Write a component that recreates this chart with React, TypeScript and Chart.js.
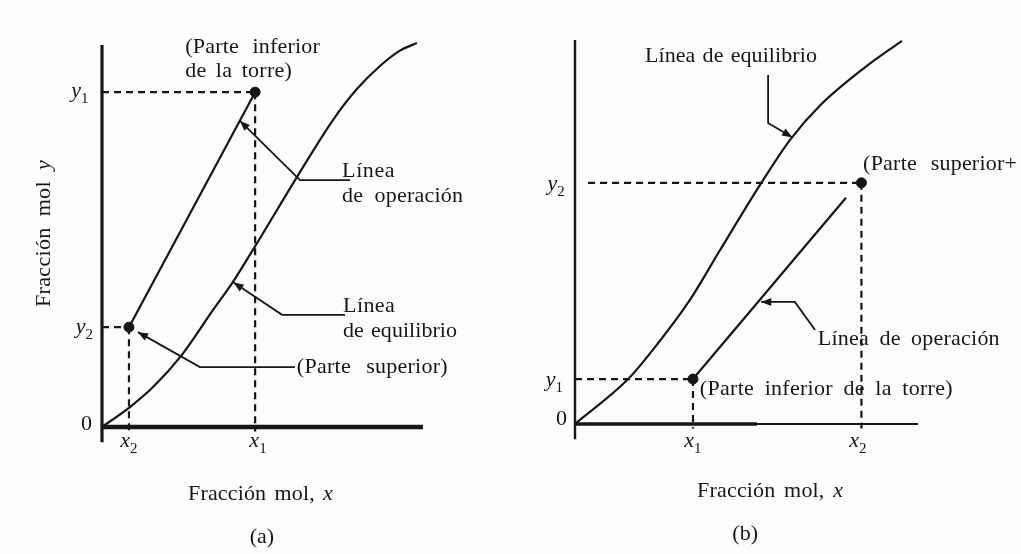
import React, { useEffect, useRef } from "react";
import { Chart, registerables } from "chart.js";

Chart.register(...registerables);

// ---------- Panel (a): absorción ----------
// Curva de equilibrio (fracción mol x, fracción mol y)
const eqA_x = [0, 0.087, 0.159, 0.249, 0.346, 0.408, 0.483, 0.611, 0.72, 0.794, 0.866, 0.928, 0.981];
const eqA_y = [0, 0.052, 0.104, 0.188, 0.305, 0.378, 0.479, 0.656, 0.8, 0.88, 0.94, 0.98, 1.0];
// Línea de operación
const opA_x = [0.084, 0.477];
const opA_y = [0.26, 0.872];
// Extremos de la torre: [superior (x2, y2), inferior (x1, y1)]
const endsA_x = [0.084, 0.477];
const endsA_y = [0.26, 0.872];
const endsA_ticks = ["2", "1"];

// ---------- Panel (b): desorción ----------
const eqB_x = [0, 0.155, 0.227, 0.335, 0.423, 0.539, 0.627, 0.715, 0.84, 0.953];
const eqB_y = [0, 0.117, 0.193, 0.323, 0.453, 0.622, 0.74, 0.83, 0.925, 0.998];
const opB_x = [0.344, 0.79];
const opB_y = [0.117, 0.589];
// Extremos: [inferior (x1, y1), superior (x2, y2)]
const endsB_x = [0.344, 0.835];
const endsB_y = [0.117, 0.628];
const endsB_ticks = ["1", "2"];

const INK = "#161616";
const FAMILY = '"Liberation Serif", "DejaVu Serif", serif';

type Part = { t: string; it?: boolean; sub?: boolean };
type Label = {
  parts: Part[];
  x: number;
  y: number;
  align?: "left" | "center" | "right";
  width?: number;
  rot?: boolean;
  size?: number;
};
type Leader = number[][]; // polyline in data coords, last point is the arrow tip

type PanelSpec = {
  eqX: number[];
  eqY: number[];
  opX: number[];
  opY: number[];
  endX: number[];
  endY: number[];
  ticks: string[];
  padding: { left: number; right: number; top: number; bottom: number };
  xAxisWidth: number;
  xAxisThickTo: number;
  yAxisWidth: number;
  yAxisTop: number;
  guideStart: number[];
  leaders: Leader[];
  labels: Label[];
};

const txt = (s: string): Part[] => [{ t: s }];
const sym = (v: string, n: string): Part[] => [{ t: v, it: true }, { t: n, sub: true }];

function drawRich(ctx: CanvasRenderingContext2D, lab: Label, px: number, py: number) {
  let size = lab.size ?? 22;
  const fontOf = (p: Part, s: number) =>
    `${p.it ? "italic " : ""}${p.sub ? Math.round(s * 0.7) : s}px ${FAMILY}`;
  const measure = (s: number) => {
    ctx.letterSpacing = "0px";
    ctx.wordSpacing = "0px";
    let w = 0;
    for (const p of lab.parts) {
      ctx.font = fontOf(p, s);
      w += ctx.measureText(p.t).width;
    }
    return w;
  };
  let natural = measure(size);
  const chars = lab.parts.reduce((n, p) => n + p.t.length, 0);
  const spaces = lab.parts.reduce((n, p) => n + (p.t.match(/ /g) || []).length, 0);
  let ls = 0;
  let ws = 0;
  if (lab.width) {
    if (natural > lab.width) {
      size = size * (lab.width / natural);
      natural = measure(size);
    } else {
      const extra = lab.width - natural;
      if (spaces > 0) {
        // most of the slack goes into the gaps between words
        ws = (extra * 0.7) / spaces;
        ls = (extra * 0.3) / chars;
      } else {
        ls = extra / chars;
      }
    }
  }
  const total = natural + ls * chars + ws * spaces;
  ctx.save();
  ctx.fillStyle = INK;
  ctx.textBaseline = "alphabetic";
  ctx.textAlign = "left";
  let ox = px;
  let oy = py;
  if (lab.rot) {
    ctx.translate(px, py);
    ctx.rotate(-Math.PI / 2);
    ox = -total / 2;
    oy = 0;
  } else if (lab.align === "center") ox = px - total / 2;
  else if (lab.align === "right") ox = px - total;
  for (const p of lab.parts) {
    ctx.font = fontOf(p, size);
    ctx.letterSpacing = `${ls}px`;
    ctx.wordSpacing = `${ws}px`;
    const w = ctx.measureText(p.t).width;
    ctx.fillText(p.t, ox, oy + (p.sub ? size * 0.28 : 0));
    ox += w;
  }
  ctx.letterSpacing = "0px";
  ctx.wordSpacing = "0px";
  ctx.restore();
}

const diagramPlugin = (spec: PanelSpec) => ({
  id: "diagram",
  beforeDatasetsDraw(chart: any) {
    const { ctx, scales } = chart;
    const X = (v: number) => scales.x.getPixelForValue(v);
    const Y = (v: number) => scales.y.getPixelForValue(v);
    ctx.save();
    ctx.strokeStyle = INK;
    ctx.lineCap = "butt";
    // Ejes
    ctx.lineWidth = spec.yAxisWidth;
    ctx.beginPath();
    ctx.moveTo(X(0), Y(-0.04));
    ctx.lineTo(X(0), Y(spec.yAxisTop));
    ctx.stroke();
    ctx.lineWidth = 2.2;
    ctx.beginPath();
    ctx.moveTo(X(0), Y(0));
    ctx.lineTo(X(1), Y(0));
    ctx.stroke();
    ctx.lineWidth = spec.xAxisWidth;
    ctx.beginPath();
    ctx.moveTo(X(0), Y(0));
    ctx.lineTo(X(spec.xAxisThickTo), Y(0));
    ctx.stroke();
    // Líneas guía punteadas hacia los ejes
    ctx.lineWidth = 2.2;
    ctx.setLineDash([7, 5]);
    spec.endX.forEach((ex, i) => {
      const ey = spec.endY[i];
      ctx.beginPath();
      ctx.moveTo(X(spec.guideStart[i]), Y(ey));
      ctx.lineTo(X(ex), Y(ey));
      ctx.stroke();
      ctx.beginPath();
      ctx.moveTo(X(ex), Y(ey));
      ctx.lineTo(X(ex), Y(-0.012));
      ctx.stroke();
    });
    ctx.setLineDash([]);
    ctx.restore();
  },
  afterDatasetsDraw(chart: any) {
    const { ctx, scales } = chart;
    const X = (v: number) => scales.x.getPixelForValue(v);
    const Y = (v: number) => scales.y.getPixelForValue(v);
    ctx.save();
    ctx.strokeStyle = INK;
    ctx.fillStyle = INK;
    ctx.lineWidth = 1.8;
    ctx.lineJoin = "miter";
    // Flechas indicadoras
    for (const ld of spec.leaders) {
      const pts = ld.map(([a, b]) => [X(a), Y(b)]);
      ctx.beginPath();
      pts.forEach(([a, b], i) => (i ? ctx.lineTo(a, b) : ctx.moveTo(a, b)));
      ctx.stroke();
      const [tx, ty] = pts[pts.length - 1];
      const [sx, sy] = pts[pts.length - 2];
      const ang = Math.atan2(ty - sy, tx - sx);
      const L = 10;
      const H = 4;
      ctx.beginPath();
      ctx.moveTo(tx, ty);
      ctx.lineTo(tx - L * Math.cos(ang) + H * Math.sin(ang), ty - L * Math.sin(ang) - H * Math.cos(ang));
      ctx.lineTo(tx - L * Math.cos(ang) - H * Math.sin(ang), ty - L * Math.sin(ang) + H * Math.cos(ang));
      ctx.closePath();
      ctx.fill();
    }
    ctx.restore();
    for (const lab of spec.labels) drawRich(ctx, lab, X(lab.x), Y(lab.y));
  },
});

function buildConfig(spec: PanelSpec): any {
  const pts = (xs: number[], ys: number[]) => xs.map((x, i) => ({ x, y: ys[i] }));
  return {
    type: "scatter",
    data: {
      datasets: [
        {
          label: "Línea de equilibrio",
          data: pts(spec.eqX, spec.eqY),
          showLine: true,
          borderColor: INK,
          borderWidth: 2.2,
          pointRadius: 0,
          cubicInterpolationMode: "monotone",
          clip: false,
        },
        {
          label: "Línea de operación",
          data: pts(spec.opX, spec.opY),
          showLine: true,
          borderColor: INK,
          borderWidth: 2.2,
          pointRadius: 0,
          clip: false,
        },
        {
          label: "Extremos de la torre",
          data: pts(spec.endX, spec.endY),
          showLine: false,
          pointRadius: 5,
          pointBackgroundColor: INK,
          pointBorderColor: INK,
          clip: false,
        },
      ],
    },
    options: {
      animation: false,
      responsive: false,
      devicePixelRatio: 1,
      layout: { padding: spec.padding },
      scales: {
        x: { type: "linear", min: 0, max: 1, display: false },
        y: { type: "linear", min: 0, max: 1, display: false },
      },
      plugins: { legend: { display: false }, tooltip: { enabled: false } },
      events: [],
    },
    plugins: [diagramPlugin(spec)],
  };
}

const panelA: PanelSpec = {
  eqX: eqA_x,
  eqY: eqA_y,
  opX: opA_x,
  opY: opA_y,
  endX: endsA_x,
  endY: endsA_y,
  ticks: endsA_ticks,
  padding: { left: 102, right: 87, top: 43, bottom: 127 },
  xAxisWidth: 4.5,
  xAxisThickTo: 1,
  yAxisWidth: 3.2,
  yAxisTop: 0.995,
  guideStart: [0, 0],
  leaders: [
    [[0.773, 0.643], [0.617, 0.643], [0.43, 0.797]],
    [[0.757, 0.292], [0.561, 0.292], [0.41, 0.376]],
    [[0.601, 0.156], [0.305, 0.156], [0.112, 0.247]],
  ],
  labels: [
    { parts: txt("(Parte inferior"), x: 0.259, y: 0.974, width: 135 },
    { parts: txt("de la torre)"), x: 0.259, y: 0.911, width: 107 },
    { parts: txt("Línea"), x: 0.748, y: 0.651, width: 53 },
    { parts: txt("de operación"), x: 0.748, y: 0.586, width: 121 },
    { parts: txt("Línea"), x: 0.751, y: 0.299, width: 52 },
    { parts: txt("de equilibrio"), x: 0.751, y: 0.234, width: 114 },
    { parts: txt("(Parte superior)"), x: 0.607, y: 0.141, width: 151 },
    { parts: sym("y", endsA_ticks[1]), x: -0.042, y: 0.859, align: "right" },
    { parts: sym("y", endsA_ticks[0]), x: -0.028, y: 0.245, align: "right" },
    { parts: txt("0"), x: -0.031, y: -0.008, align: "right" },
    { parts: sym("x", endsA_ticks[0]), x: endsA_x[0], y: -0.052, align: "center" },
    { parts: sym("x", endsA_ticks[1]), x: 0.486, y: -0.052, align: "center" },
    { parts: [{ t: "Fracción mol, " }, { t: "x", it: true }], x: 0.268, y: -0.19, width: 145 },
    { parts: txt("(a)"), x: 0.498, y: -0.302, align: "center" },
    { parts: [{ t: "Fracción mol " }, { t: "y", it: true }], x: -0.162, y: 0.504, width: 147, rot: true },
  ],
};

const panelB: PanelSpec = {
  eqX: eqB_x,
  eqY: eqB_y,
  opX: opB_x,
  opY: opB_y,
  endX: endsB_x,
  endY: endsB_y,
  ticks: endsB_ticks,
  padding: { left: 65, right: 103, top: 40, bottom: 130 },
  xAxisWidth: 3.4,
  xAxisThickTo: 0.53,
  yAxisWidth: 2.4,
  yAxisTop: 1.0,
  guideStart: [0, 0.038],
  leaders: [
    [[0.563, 0.909], [0.563, 0.784], [0.633, 0.747]],
    [[0.70, 0.245], [0.641, 0.318], [0.543, 0.318]],
  ],
  labels: [
    { parts: txt("Línea de equilibrio"), x: 0.204, y: 0.943, width: 172 },
    { parts: txt("(Parte superior+"), x: 0.84, y: 0.661, width: 154 },
    { parts: sym("y", endsB_ticks[1]), x: -0.03, y: 0.609, align: "right" },
    { parts: txt("Línea de operación"), x: 0.708, y: 0.206, width: 182 },
    { parts: txt("(Parte inferior de la torre)"), x: 0.364, y: 0.0755, width: 253 },
    { parts: sym("y", endsB_ticks[0]), x: -0.035, y: 0.1, align: "right" },
    { parts: txt("0"), x: -0.023, y: -0.003, align: "right" },
    { parts: sym("x", endsB_ticks[0]), x: endsB_x[0], y: -0.06, align: "center" },
    { parts: sym("x", endsB_ticks[1]), x: 0.825, y: -0.06, align: "center" },
    { parts: [{ t: "Fracción mol, " }, { t: "x", it: true }], x: 0.356, y: -0.19, width: 146 },
    { parts: txt("(b)"), x: 0.496, y: -0.302, align: "center" },
  ],
};

function Panel({ spec, left, width }: { spec: PanelSpec; left: number; width: number }) {
  const ref = useRef<HTMLCanvasElement>(null);
  useEffect(() => {
    const chart = new Chart(ref.current as HTMLCanvasElement, buildConfig(spec));
    return () => chart.destroy();
  }, [spec]);
  return (
    <canvas
      ref={ref}
      width={width}
      height={554}
      style={{ position: "absolute", left, top: 0, width, height: 554 }}
    />
  );
}

export default function App() {
  return (
    <div
      style={{
        position: "fixed",
        left: 0,
        top: 0,
        width: 1021,
        height: 554,
        background: "#fcfcfc",
        overflow: "hidden",
      }}
    >
      <Panel spec={panelA} left={0} width={510} />
      <Panel spec={panelB} left={510} width={511} />
    </div>
  );
}
